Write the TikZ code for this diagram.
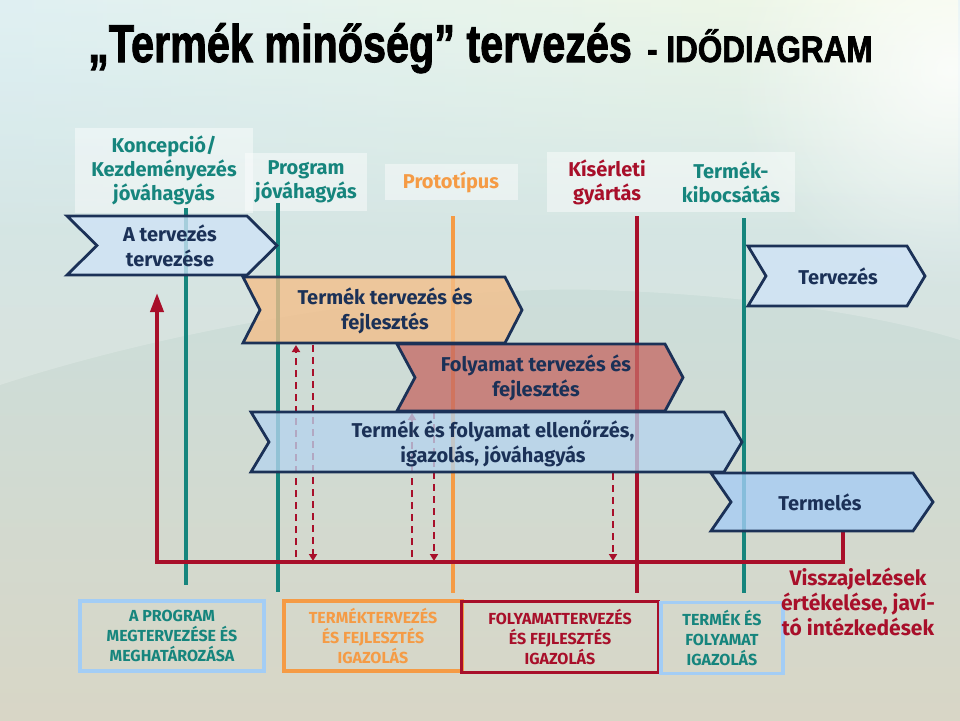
\documentclass[tikz,border=0pt]{standalone}
\usepackage{fontspec}
\setmainfont{Fira Sans}
\newfontfamily\titlefont[BoldFeatures={FakeBold=2}]{Liberation Sans}
\usetikzlibrary{arrows.meta,fadings}
\definecolor{Teal}{HTML}{16857D}
\definecolor{Orange}{HTML}{F59B45}
\definecolor{Crimson}{HTML}{A80F2A}
\definecolor{Navy}{HTML}{1B3157}
\definecolor{PaleBlue}{HTML}{CFE3F7}
\definecolor{Apricot}{HTML}{F4BE88}
\definecolor{Brick}{HTML}{C66A66}
\definecolor{Sky}{HTML}{B6D4EE}
\definecolor{LightBlue}{HTML}{A6CDF6}
\definecolor{IceBlue}{HTML}{A3CDF5}
\definecolor{BgTop}{HTML}{C4E3E8}
\definecolor{BgMid}{HTML}{E6F1EF}
\definecolor{BgBot}{HTML}{D8D6C6}
\tikzfading[name=fadedown,top color=transparent!0,bottom color=transparent!100]
\tikzfading[name=glow,inner color=transparent!20,outer color=transparent!100]
\newcommand{\phasebar}[6]{%
  \filldraw[#1] (#2,#4) -- ({#3-#6},#4) -- (#3,{(#4+#5)/2}) -- ({#3-#6},#5) -- (#2,#5) -- ({#2+#6},{(#4+#5)/2}) -- cycle;}

\begin{document}
\begin{tikzpicture}[x=1pt,y=-1pt,font=\bfseries,
  milestone/.style={line width=4.5pt},
  phase/.style={draw=Navy,line width=2.8pt,line join=miter,fill opacity=.78},
  phasetext/.style={text=Navy,align=center,font=\bfseries\fontsize{20}{25}\selectfont},
  gate/.style={fill=white,fill opacity=.45,text opacity=1,align=center,inner sep=0pt,font=\bfseries\fontsize{20}{24}\selectfont},
  check/.style={Crimson,line width=2.4pt,dash pattern=on 7pt off 5pt,-{Triangle[length=7pt,width=8pt]}},
  feedback/.style={Crimson,line width=3.8pt,-{Triangle[length=19pt,width=13pt]}},
  outbox/.style={line width=3.5pt,align=center,inner sep=0pt,font=\bfseries\fontsize{16}{20}\selectfont}]
  \useasboundingbox (0,0) rectangle (960,720);
  \shade[top color=BgTop,middle color=BgMid,bottom color=BgBot] (0,0) rectangle (960,720);
  \shade[left color=white!50!BgTop,middle color=BgTop!75!Teal,right color=white!85!yellow,path fading=fadedown,opacity=.7]
    (0,0) rectangle (960,240);
  \fill[white,fill opacity=.2] (0,385) .. controls (200,320) and (450,285) .. (600,290) .. controls (750,295) and (880,315) .. (960,340) -- (960,0) -- (0,0) -- cycle;
  \fill[white,path fading=glow] (950,70) circle (220);

  \node[anchor=base west,inner sep=0pt] (title) at (88,62) {\titlefont\bfseries\scalebox{.78}[1]{\fontsize{53}{53}\selectfont „Termék minőség” tervezés}};
  \node[anchor=base west,inner sep=0pt] (titlesub) at (647,62) {\titlefont\bfseries\scalebox{.85}[1]{\fontsize{37}{37}\selectfont - IDŐDIAGRAM}};

  \node[gate,text=Teal,minimum width=178,minimum height=85] (concept) at (164,170) {Koncepció/\\Kezdeményezés\\jóváhagyás};
  \node[gate,text=Teal,minimum width=122,minimum height=58] (program) at (306,182) {Program\\jóváhagyás};
  \node[gate,text=Orange,minimum width=133,minimum height=36] (proto) at (451,182) {Prototípus};
  \node[gate,text=Crimson,minimum width=121,minimum height=60] (pilot) at (607,182) {Kísérleti\\gyártás};
  \node[gate,text=Teal,minimum width=127,minimum height=60] (launch) at (731,182) {Termék-\\kibocsátás};

  \foreach \x/\a/\b/\c in {186/208/585/Teal,278/203/592/Teal,453/216/593/Orange,637/216/593/Crimson,744/218/593/Teal}
    \draw[milestone,\c] (\x,\a) -- (\x,\b);

  \foreach \x/\y [count=\i] in {296/345,412/413}{
    \coordinate (ret\i) at (\x,\y);
    \coordinate (retfoot\i) at (\x,557);
    \draw[check] (retfoot\i) -- (ret\i);}
  \foreach \x/\y [count=\i] in {313/345,434/412,613/473}{
    \coordinate (out\i) at (\x,\y);
    \coordinate (outfoot\i) at (\x,561);
    \draw[check] (out\i) -- (outfoot\i);}

  \coordinate (fbstart) at (843,530);
  \coordinate (fbright) at (843,562);
  \coordinate (fbleft) at (157,562);
  \coordinate (fbend) at (157,293);
  \draw[feedback] (fbstart) -- (fbright) -- (fbleft) -- (fbend);

  \phasebar{phase,fill=PaleBlue}{67}{277}{216}{275}{30}
  \phasebar{phase,fill=Apricot}{243}{522}{277}{343}{17}
  \phasebar{phase,fill=Brick}{397}{683}{344}{411}{18}
  \phasebar{phase,fill=Sky}{251}{742}{412}{472}{18}
  \phasebar{phase,fill=PaleBlue}{748}{925}{246}{306}{18}
  \phasebar{phase,fill=LightBlue}{711}{933}{473}{531}{20}

  \node[phasetext] (plan) at (170,246) {A tervezés\\tervezése};
  \node[phasetext] (prod) at (385,311) {Termék tervezés és\\fejlesztés};
  \node[phasetext] (proc) at (536,378) {Folyamat tervezés és\\fejlesztés};
  \node[phasetext] (valid) at (493,444) {Termék és folyamat ellenőrzés,\\igazolás, jóváhagyás};
  \node[phasetext] (design) at (838,276) {Tervezés};
  \node[phasetext] (output) at (820,502) {Termelés};

  \node[outbox,draw=IceBlue,text=Teal,minimum width=184,minimum height=70] (progbox) at (172,636) {A PROGRAM\\MEGTERVEZÉSE ÉS\\MEGHATÁROZÁSA};
  \node[outbox,draw=Orange,text=Orange,minimum width=178,minimum height=70] (prodbox) at (373,636) {TERMÉKTERVEZÉS\\ÉS FEJLESZTÉS\\IGAZOLÁS};
  \node[outbox,draw=Crimson,text=Crimson,minimum width=197,minimum height=71] (procbox) at (560,637) {FOLYAMATTERVEZÉS\\ÉS FEJLESZTÉS\\IGAZOLÁS};
  \node[outbox,draw=IceBlue,text=Teal,minimum width=122,minimum height=71] (validbox) at (722,638) {TERMÉK ÉS\\FOLYAMAT\\IGAZOLÁS};
  \node[text=Crimson,align=center,font=\bfseries\fontsize{21}{25}\selectfont] (notes) at (858,602) {Visszajelzések\\értékelése, javí-\\tó intézkedések};
\end{tikzpicture}
\end{document}
